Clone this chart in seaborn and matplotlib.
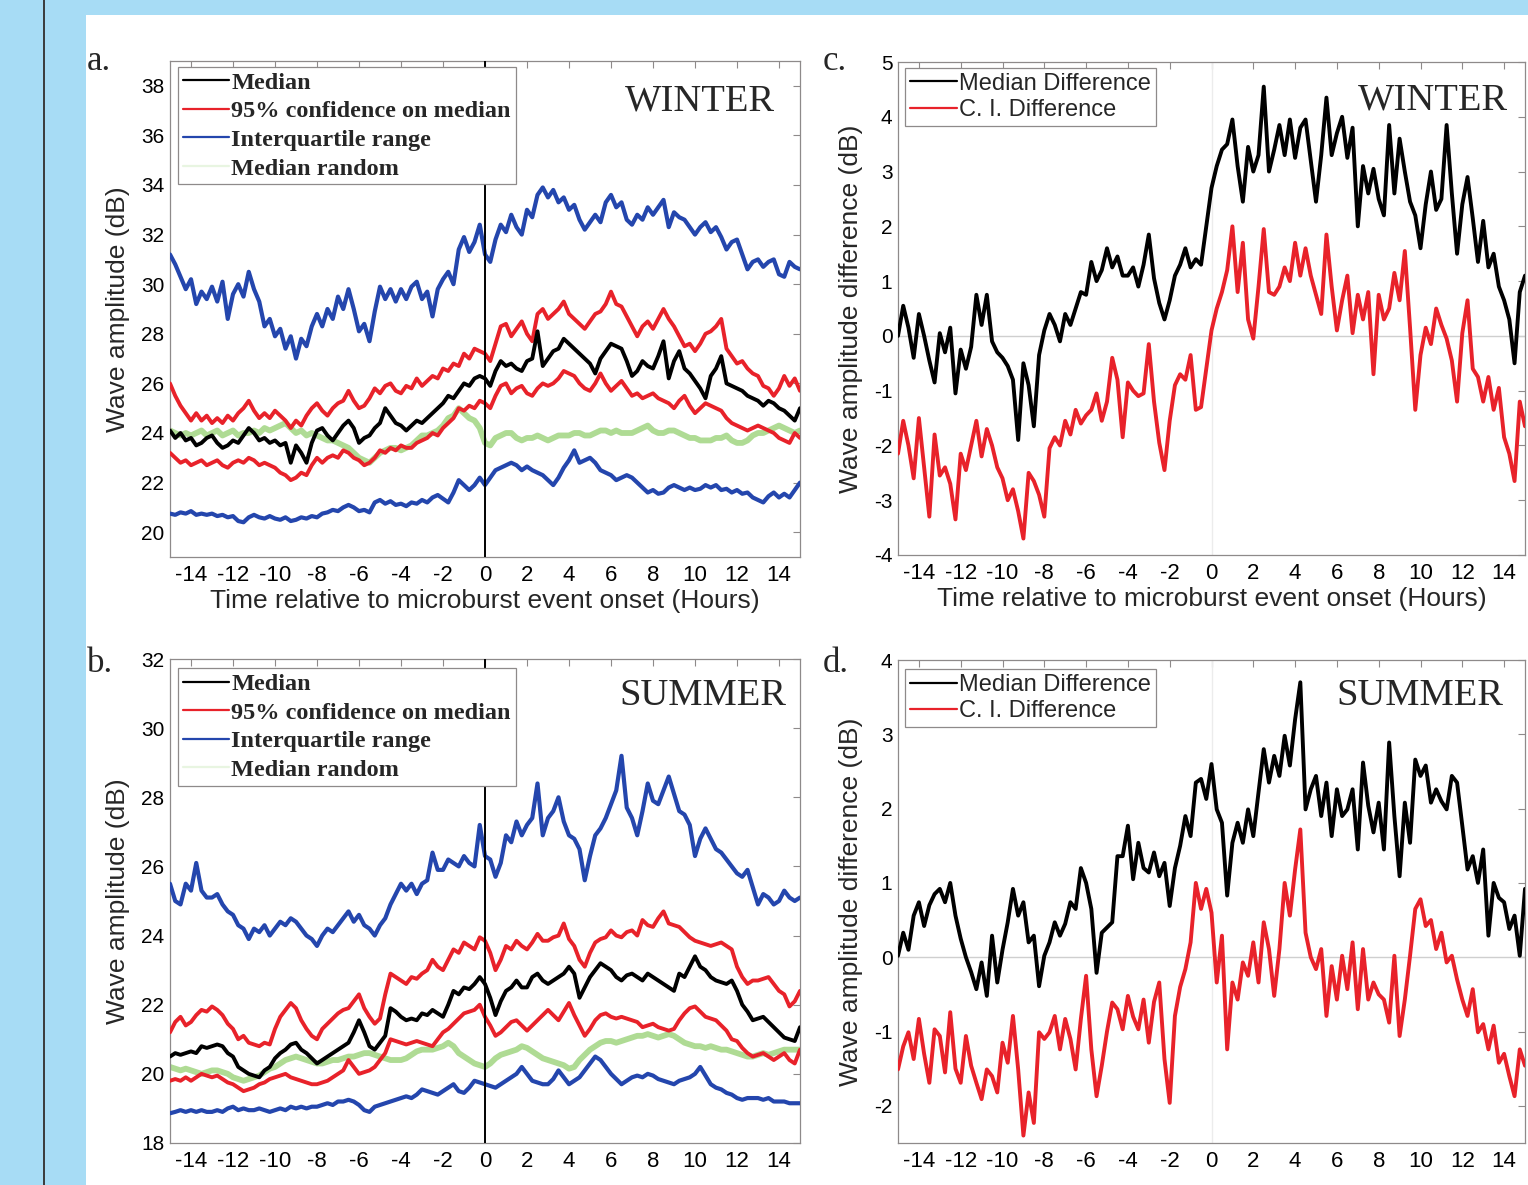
import numpy as np
import matplotlib
matplotlib.use("Agg")
import matplotlib.pyplot as plt
import seaborn as sns
from matplotlib.patches import Rectangle
from matplotlib.lines import Line2D
from matplotlib.font_manager import FontProperties

# ---------------- data (0.25 h steps, -15 .. 15 h) ----------------
hours = np.linspace(-15, 15, 121)

a_iqr_hi = [31.2, 30.8, 30.3, 29.8, 30.2, 29.2, 29.7, 29.4,
            29.9, 29.3, 30.1, 28.6, 29.6, 30.0, 29.5, 30.5,
            29.8, 29.3, 28.3, 28.6, 27.9, 28.2, 27.4, 27.9,
            27.0, 27.8, 27.5, 28.3, 28.8, 28.3, 29.0, 28.6,
            29.5, 29.0, 29.8, 29.0, 28.1, 28.4, 27.7, 28.9,
            29.9, 29.4, 29.8, 29.3, 29.8, 29.4, 29.9, 30.1,
            29.4, 29.7, 28.7, 29.8, 30.2, 30.5, 30.0, 31.4,
            31.9, 31.3, 31.7, 32.4, 31.2, 30.9, 31.8, 32.4,
            32.1, 32.8, 32.3, 32.0, 33.0, 32.7, 33.6, 33.9,
            33.5, 33.8, 33.3, 33.5, 33.0, 33.2, 32.6, 32.2,
            32.5, 32.8, 32.5, 33.3, 33.6, 33.1, 33.3, 32.6,
            32.4, 32.8, 32.6, 33.1, 32.8, 33.1, 33.4, 32.3,
            32.9, 32.7, 32.6, 32.3, 32.0, 32.3, 32.5, 32.1,
            32.3, 31.9, 31.4, 31.7, 31.8, 31.2, 30.6, 30.9,
            31.0, 30.7, 30.9, 31.0, 30.4, 30.3, 30.9, 30.7,
            30.6]
a_iqr_lo = [20.75, 20.7, 20.8, 20.75, 20.85, 20.7, 20.75, 20.7,
            20.75, 20.65, 20.7, 20.6, 20.65, 20.45, 20.4, 20.6,
            20.7, 20.6, 20.55, 20.65, 20.55, 20.5, 20.6, 20.45,
            20.5, 20.6, 20.55, 20.65, 20.6, 20.75, 20.8, 20.9,
            20.85, 21.0, 21.1, 21.0, 20.85, 20.9, 20.8, 21.2,
            21.3, 21.15, 21.25, 21.1, 21.15, 21.05, 21.2, 21.15,
            21.3, 21.2, 21.4, 21.5, 21.35, 21.2, 21.6, 22.1,
            21.9, 21.7, 21.9, 22.2, 21.9, 22.2, 22.5, 22.6,
            22.7, 22.8, 22.7, 22.5, 22.65, 22.5, 22.4, 22.3,
            22.1, 21.9, 22.2, 22.6, 22.9, 23.3, 22.8, 22.9,
            23.0, 22.8, 22.5, 22.4, 22.3, 22.1, 22.2, 22.3,
            22.2, 22.0, 21.8, 21.6, 21.7, 21.55, 21.6, 21.8,
            21.9, 21.8, 21.7, 21.8, 21.7, 21.75, 21.9, 21.8,
            21.9, 21.7, 21.75, 21.6, 21.7, 21.55, 21.6, 21.4,
            21.3, 21.2, 21.45, 21.6, 21.4, 21.55, 21.4, 21.7,
            22.0]
a_ci_hi = [26.0, 25.5, 25.1, 24.8, 24.5, 24.8, 24.5, 24.7,
           24.4, 24.6, 24.4, 24.7, 24.5, 24.8, 25.0, 25.3,
           24.9, 24.6, 24.8, 24.6, 24.9, 24.7, 24.5, 24.2,
           24.5, 24.3, 24.7, 25.0, 25.2, 24.9, 24.7, 25.0,
           25.2, 25.3, 25.7, 25.3, 25.0, 25.1, 25.4, 25.8,
           25.6, 25.9, 26.0, 25.7, 25.6, 25.9, 25.8, 26.2,
           25.9, 26.1, 26.3, 26.2, 26.6, 26.5, 26.8, 26.7,
           27.2, 27.0, 27.4, 27.3, 27.2, 26.9, 27.6, 28.3,
           28.4, 27.9, 28.2, 28.5, 28.0, 27.7, 28.8, 29.0,
           28.6, 28.8, 29.0, 29.3, 28.8, 28.6, 28.4, 28.2,
           28.5, 28.8, 28.9, 29.2, 29.7, 29.2, 29.1, 28.7,
           28.3, 27.9, 28.3, 28.5, 28.2, 28.6, 29.0, 28.6,
           28.3, 27.9, 27.5, 27.6, 27.3, 27.6, 28.0, 28.1,
           28.3, 28.6, 27.4, 27.1, 26.8, 26.9, 26.6, 26.4,
           26.3, 25.9, 25.8, 25.5, 25.8, 26.3, 25.9, 26.2,
           25.7]
a_median = [24.1, 23.8, 24.0, 23.7, 23.8, 23.5, 23.6, 23.8,
            23.9, 23.6, 23.4, 23.5, 23.7, 23.6, 23.9, 24.2,
            24.0, 23.7, 23.8, 23.6, 23.7, 23.5, 23.6, 22.8,
            23.5, 23.2, 22.8, 23.6, 24.1, 24.2, 23.9, 23.7,
            24.0, 24.3, 24.5, 24.2, 23.6, 23.8, 23.9, 24.2,
            24.4, 25.0, 24.7, 24.4, 24.3, 24.1, 24.3, 24.5,
            24.4, 24.6, 24.8, 25.0, 25.2, 25.5, 25.4, 25.7,
            26.0, 25.9, 26.2, 26.3, 26.2, 25.9, 26.5, 26.9,
            26.7, 26.8, 26.6, 26.5, 26.9, 27.0, 28.1, 26.7,
            27.0, 27.3, 27.4, 27.8, 27.6, 27.4, 27.2, 27.0,
            26.8, 26.4, 27.0, 27.3, 27.6, 27.5, 27.4, 26.9,
            26.3, 26.5, 26.9, 26.7, 26.6, 27.1, 27.7, 26.2,
            26.9, 27.3, 26.6, 26.4, 26.1, 25.8, 25.4, 26.3,
            26.6, 27.1, 26.0, 25.9, 25.8, 25.7, 25.5, 25.4,
            25.3, 25.1, 25.3, 25.2, 25.0, 24.9, 24.7, 24.5,
            25.0]
a_ci_lo = [23.2, 23.0, 22.8, 22.9, 22.7, 22.8, 22.9, 22.7,
           22.8, 22.9, 22.7, 22.6, 22.8, 22.9, 22.8, 23.0,
           22.9, 22.7, 22.8, 22.7, 22.6, 22.4, 22.3, 22.1,
           22.2, 22.4, 22.3, 22.7, 23.0, 22.8, 23.0, 23.1,
           23.0, 23.3, 23.2, 23.0, 22.9, 22.7, 22.8, 23.0,
           23.3, 23.2, 23.4, 23.3, 23.5, 23.4, 23.4, 23.6,
           23.7, 23.8, 24.0, 23.9, 24.2, 24.4, 24.6, 25.0,
           24.9, 25.1, 25.0, 25.3, 25.2, 25.0, 25.5, 25.9,
           26.0, 25.6, 25.8, 25.9, 25.6, 25.5, 25.8, 26.0,
           25.9, 26.0, 26.2, 26.5, 26.4, 26.3, 26.0, 25.8,
           25.7, 26.0, 26.4, 26.0, 25.7, 25.9, 26.1, 25.8,
           25.5, 25.6, 25.4, 25.5, 25.6, 25.4, 25.3, 25.2,
           25.0, 25.3, 25.5, 25.1, 24.8, 25.0, 25.2, 25.1,
           25.0, 24.9, 24.6, 24.4, 24.3, 24.2, 24.1, 24.2,
           24.3, 24.2, 24.1, 24.0, 23.8, 23.7, 23.6, 24.0,
           23.8]
a_random = [24.1, 24.0, 23.9, 24.0, 23.9, 24.0, 24.1, 23.9,
            24.0, 24.1, 23.9, 24.0, 24.1, 23.9, 24.0, 24.0,
            24.1, 24.0, 24.2, 24.1, 24.2, 24.3, 24.4, 24.2,
            24.0, 24.1, 23.9, 24.0, 23.9, 23.8, 23.7, 23.7,
            23.6, 23.5, 23.4, 23.2, 23.0, 22.9, 22.8, 23.0,
            23.2, 23.3, 23.4, 23.4, 23.3, 23.4, 23.5, 23.7,
            23.9, 23.9, 24.0, 24.1, 24.3, 24.6, 24.7, 25.0,
            24.8, 24.6, 24.5, 24.2, 23.6, 23.5, 23.8, 23.9,
            24.0, 24.0, 23.8, 23.7, 23.8, 23.8, 23.9, 23.8,
            23.7, 23.8, 23.9, 23.9, 23.9, 24.0, 24.0, 23.9,
            23.9, 24.0, 24.1, 24.1, 24.0, 24.1, 24.0, 24.0,
            24.0, 24.1, 24.2, 24.3, 24.1, 24.0, 24.0, 24.1,
            24.1, 24.0, 23.9, 23.8, 23.8, 23.7, 23.7, 23.7,
            23.8, 23.8, 23.9, 23.7, 23.6, 23.6, 23.7, 23.9,
            24.0, 24.0, 24.1, 24.2, 24.3, 24.2, 24.1, 24.0,
            24.1]

b_iqr_hi = [25.5, 25.0, 24.9, 25.5, 25.3, 26.1, 25.3, 25.1,
            25.1, 25.2, 24.9, 24.7, 24.6, 24.3, 24.2, 23.9,
            24.2, 24.1, 24.3, 24.0, 24.2, 24.4, 24.3, 24.5,
            24.4, 24.2, 24.0, 23.9, 23.7, 24.0, 24.2, 24.1,
            24.3, 24.5, 24.7, 24.4, 24.6, 24.3, 24.2, 24.0,
            24.3, 24.5, 24.9, 25.2, 25.5, 25.3, 25.5, 25.2,
            25.5, 25.6, 26.4, 25.9, 25.9, 26.2, 26.1, 26.0,
            26.3, 26.1, 26.0, 27.2, 26.3, 26.2, 25.7, 26.1,
            26.9, 26.7, 27.3, 26.9, 27.2, 27.4, 28.4, 26.9,
            27.4, 27.6, 28.0, 27.3, 26.9, 26.8, 26.5, 25.6,
            26.3, 26.9, 27.1, 27.4, 27.8, 28.2, 29.2, 27.7,
            27.4, 26.9, 27.6, 28.4, 27.9, 27.8, 28.2, 28.6,
            28.1, 27.6, 27.5, 27.2, 26.3, 26.8, 27.1, 26.8,
            26.5, 26.4, 26.2, 26.0, 25.8, 25.7, 25.9, 25.4,
            24.9, 25.2, 25.1, 24.9, 25.0, 25.3, 25.1, 25.0,
            25.1]
b_iqr_lo = [18.86, 18.9, 18.95, 18.9, 18.95, 18.9, 18.95, 18.9,
            18.9, 18.95, 18.9, 19.0, 19.05, 18.95, 19.0, 18.95,
            18.95, 19.0, 18.95, 18.9, 18.95, 19.0, 18.95, 19.05,
            19.0, 19.05, 19.0, 19.05, 19.05, 19.1, 19.15, 19.1,
            19.2, 19.2, 19.25, 19.2, 19.1, 18.95, 18.9, 19.05,
            19.1, 19.15, 19.2, 19.25, 19.3, 19.35, 19.3, 19.4,
            19.55, 19.5, 19.45, 19.4, 19.5, 19.6, 19.7, 19.5,
            19.45, 19.6, 19.8, 19.75, 19.7, 19.65, 19.6, 19.7,
            19.8, 19.9, 20.0, 20.2, 20.0, 19.8, 19.75, 19.7,
            19.7, 19.85, 20.1, 19.9, 19.7, 19.8, 19.9, 20.1,
            20.3, 20.5, 20.4, 20.2, 20.0, 19.85, 19.7, 19.8,
            19.9, 19.95, 19.9, 20.0, 19.95, 19.85, 19.8, 19.75,
            19.7, 19.8, 19.85, 19.9, 20.0, 20.2, 19.95, 19.7,
            19.6, 19.55, 19.45, 19.4, 19.3, 19.25, 19.3, 19.3,
            19.3, 19.25, 19.3, 19.2, 19.2, 19.2, 19.15, 19.15,
            19.15]
b_ci_hi = [21.2, 21.5, 21.65, 21.4, 21.5, 21.7, 21.85, 21.8,
           21.95, 21.85, 21.7, 21.45, 21.3, 21.0, 21.1, 20.9,
           20.85, 20.8, 20.9, 20.85, 21.3, 21.65, 21.85, 22.05,
           21.9, 21.55, 21.3, 21.1, 21.0, 21.3, 21.45, 21.6,
           21.75, 21.85, 21.9, 22.1, 22.3, 21.9, 21.65, 21.45,
           21.6, 22.3, 22.9, 22.8, 22.7, 22.6, 22.8, 22.75,
           22.9, 23.0, 23.3, 23.1, 23.0, 23.3, 23.6, 23.5,
           23.8, 23.7, 23.6, 23.95, 23.85, 23.5, 23.0, 23.3,
           23.7, 23.6, 23.85, 23.7, 23.6, 23.8, 24.05, 23.85,
           23.85, 23.95, 24.0, 24.35, 23.9, 23.7, 23.3, 23.1,
           23.5, 23.8, 23.9, 23.95, 24.15, 24.0, 23.95, 24.1,
           24.15, 24.0, 24.45, 24.3, 24.25, 24.5, 24.7, 24.35,
           24.3, 24.25, 24.1, 23.95, 23.85, 23.8, 23.75, 23.7,
           23.75, 23.8, 23.7, 23.6, 23.1, 22.8, 22.6, 22.7,
           22.7, 22.75, 22.8, 22.6, 22.4, 22.3, 21.95, 22.1,
           22.4]
b_median = [20.5, 20.6, 20.55, 20.6, 20.65, 20.6, 20.8, 20.75,
            20.8, 20.85, 20.8, 20.6, 20.5, 20.2, 20.1, 20.0,
            19.95, 19.9, 20.1, 20.2, 20.45, 20.6, 20.7, 20.85,
            20.9, 20.7, 20.6, 20.45, 20.3, 20.4, 20.5, 20.6,
            20.7, 20.8, 20.9, 21.2, 21.55, 21.2, 20.8, 20.7,
            20.9, 21.1, 21.9, 21.8, 21.65, 21.55, 21.6, 21.55,
            21.75, 21.7, 21.85, 21.75, 21.65, 22.0, 22.4, 22.3,
            22.5, 22.45, 22.6, 22.8, 22.6, 22.2, 21.7, 22.1,
            22.4, 22.5, 22.7, 22.5, 22.5, 22.8, 22.9, 22.7,
            22.6, 22.7, 22.8, 22.9, 23.1, 22.9, 22.2, 22.5,
            22.8, 23.0, 23.2, 23.1, 23.0, 22.8, 22.7, 22.85,
            22.9, 22.8, 22.7, 22.9, 22.8, 22.7, 22.6, 22.5,
            22.4, 22.9, 22.8, 23.1, 23.4, 23.1, 23.0, 22.8,
            22.7, 22.65, 22.6, 22.7, 22.4, 22.0, 21.8, 21.55,
            21.6, 21.65, 21.5, 21.35, 21.2, 21.05, 21.0, 20.95,
            21.35]
b_ci_lo = [19.8, 19.85, 19.8, 19.9, 19.8, 19.9, 20.0, 19.95,
           19.9, 19.95, 19.85, 19.75, 19.7, 19.6, 19.5, 19.55,
           19.6, 19.7, 19.75, 19.85, 19.9, 19.95, 20.0, 19.9,
           19.85, 19.8, 19.75, 19.7, 19.7, 19.75, 19.8, 19.9,
           20.0, 20.1, 20.4, 20.2, 20.0, 20.05, 20.1, 20.2,
           20.4, 20.6, 21.0, 20.95, 20.9, 20.85, 20.9, 20.95,
           20.9, 20.85, 20.8, 21.0, 21.2, 21.3, 21.45, 21.6,
           21.75, 21.8, 21.85, 22.0, 21.65, 21.4, 21.1, 21.2,
           21.35, 21.5, 21.55, 21.4, 21.25, 21.4, 21.55, 21.7,
           21.85, 21.7, 21.55, 21.8, 22.05, 21.7, 21.4, 21.1,
           21.3, 21.55, 21.7, 21.75, 21.65, 21.6, 21.65, 21.6,
           21.55, 21.5, 21.35, 21.4, 21.45, 21.35, 21.3, 21.25,
           21.3, 21.55, 21.75, 21.9, 21.95, 21.8, 21.65, 21.6,
           21.55, 21.4, 21.25, 21.0, 20.95, 20.75, 20.6, 20.5,
           20.55, 20.6, 20.5, 20.4, 20.5, 20.6, 20.4, 20.3,
           20.7]
b_random = [20.2, 20.15, 20.1, 20.15, 20.1, 20.05, 20.0, 20.05,
            20.1, 20.1, 20.05, 20.0, 19.9, 19.85, 19.8, 19.85,
            19.9, 19.95, 20.05, 20.15, 20.2, 20.3, 20.4, 20.45,
            20.5, 20.45, 20.4, 20.35, 20.3, 20.3, 20.35, 20.4,
            20.4, 20.45, 20.5, 20.5, 20.55, 20.6, 20.6, 20.55,
            20.5, 20.45, 20.4, 20.4, 20.4, 20.45, 20.55, 20.65,
            20.7, 20.7, 20.7, 20.75, 20.8, 20.9, 20.8, 20.6,
            20.5, 20.4, 20.3, 20.25, 20.2, 20.3, 20.45, 20.55,
            20.6, 20.65, 20.7, 20.8, 20.75, 20.65, 20.55, 20.45,
            20.4, 20.35, 20.3, 20.25, 20.15, 20.2, 20.4, 20.55,
            20.7, 20.8, 20.9, 20.95, 20.95, 20.9, 20.95, 21.0,
            21.05, 21.1, 21.1, 21.15, 21.1, 21.05, 21.1, 21.15,
            21.1, 21.0, 20.9, 20.85, 20.8, 20.8, 20.75, 20.8,
            20.75, 20.7, 20.7, 20.65, 20.6, 20.55, 20.5, 20.5,
            20.55, 20.6, 20.55, 20.6, 20.65, 20.7, 20.7, 20.7,
            20.7]

c_median_diff = [0.0, 0.55, 0.15, -0.4, 0.4, 0.0, -0.45, -0.85,
                 0.05, -0.3, 0.15, -1.05, -0.25, -0.6, -0.2, 0.75,
                 0.2, 0.75, -0.1, -0.3, -0.4, -0.55, -0.8, -1.9,
                 -0.5, -0.9, -1.65, -0.35, 0.1, 0.4, 0.2, -0.1,
                 0.4, 0.2, 0.5, 0.8, 0.75, 1.35, 1.0, 1.2,
                 1.6, 1.25, 1.45, 1.1, 1.1, 1.25, 0.9, 1.3,
                 1.85, 1.05, 0.6, 0.3, 0.65, 1.1, 1.3, 1.6,
                 1.25, 1.4, 1.3, 2.0, 2.7, 3.1, 3.4, 3.5,
                 3.95, 3.1, 2.45, 3.45, 3.0, 3.3, 4.55, 3.0,
                 3.4, 3.85, 3.3, 3.95, 3.25, 3.8, 3.95, 3.2,
                 2.45, 3.3, 4.35, 3.3, 3.7, 4.0, 3.25, 3.8,
                 2.0, 3.1, 2.6, 3.05, 2.5, 2.2, 3.85, 2.6,
                 3.6, 3.0, 2.45, 2.2, 1.6, 2.4, 3.0, 2.3,
                 2.5, 3.85, 2.6, 1.5, 2.4, 2.9, 2.15, 1.35,
                 2.1, 1.25, 1.5, 0.9, 0.65, 0.3, -0.5, 0.8,
                 1.1]
c_ci_diff = [-2.15, -1.55, -2.0, -2.6, -1.5, -2.4, -3.3, -1.8,
             -2.55, -2.4, -2.7, -3.35, -2.15, -2.45, -2.0, -1.55,
             -2.2, -1.7, -2.0, -2.4, -2.6, -3.0, -2.8, -3.2,
             -3.7, -2.5, -2.65, -2.9, -3.3, -2.05, -1.85, -2.0,
             -1.55, -1.8, -1.35, -1.6, -1.45, -1.35, -1.05, -1.55,
             -1.2, -0.4, -0.8, -1.85, -0.85, -1.0, -1.1, -1.05,
             -0.15, -1.2, -1.95, -2.45, -1.55, -0.9, -0.7, -0.8,
             -0.35, -1.35, -1.3, -0.6, 0.1, 0.5, 0.8, 1.2,
             2.0, 0.8, 1.7, 0.3, -0.05, 0.9, 1.95, 0.8,
             0.75, 0.9, 1.25, 1.0, 1.7, 1.1, 1.6, 1.1,
             0.75, 0.4, 1.85, 0.9, 0.1, 0.65, 1.1, 0.05,
             0.75, 0.3, 0.8, -0.7, 0.75, 0.3, 0.5, 1.15,
             0.65, 1.55, 0.15, -1.35, -0.35, 0.15, -0.15, 0.5,
             0.2, -0.05, -0.45, -1.2, 0.05, 0.65, -0.6, -0.75,
             -1.2, -0.75, -1.35, -0.95, -1.85, -2.15, -2.65, -1.2,
             -1.65]

d_median_diff = [0.02, 0.33, 0.1, 0.56, 0.74, 0.42, 0.7, 0.85,
                 0.92, 0.74, 1.0, 0.56, 0.25, 0.0, -0.2, -0.43,
                 -0.07, -0.52, 0.29, -0.34, 0.1, 0.47, 0.92, 0.56,
                 0.74, 0.2, 0.29, -0.39, 0.02, 0.2, 0.47, 0.29,
                 0.45, 0.74, 0.65, 1.2, 1.0, 0.65, -0.21, 0.33,
                 0.4, 0.47, 1.36, 1.36, 1.77, 1.05, 1.54, 1.2,
                 1.14, 1.41, 1.09, 1.27, 0.69, 1.2, 1.5, 1.9,
                 1.63, 2.35, 2.4, 2.13, 2.6, 1.99, 1.81, 0.83,
                 1.54, 1.81, 1.54, 1.99, 1.63, 2.22, 2.8, 2.35,
                 2.71, 2.44, 2.98, 2.58, 3.2, 3.7, 1.99, 2.26,
                 2.44, 1.9, 2.35, 1.63, 2.26, 1.9, 1.99, 2.26,
                 1.45, 2.62, 2.04, 1.68, 2.08, 1.45, 2.89, 1.9,
                 1.09, 2.08, 1.54, 2.66, 2.44, 2.58, 2.08, 2.26,
                 2.1, 1.99, 2.44, 2.35, 1.77, 1.18, 1.36, 1.0,
                 1.45, 0.29, 1.0, 0.8, 0.74, 0.38, 0.56, 0.02,
                 0.92]
d_ci_diff = [-1.51, -1.2, -1.01, -1.37, -0.83, -1.3, -1.69, -0.97,
             -1.06, -1.55, -0.74, -1.5, -1.69, -1.06, -1.46, -1.69,
             -1.91, -1.51, -1.6, -1.82, -1.15, -1.42, -0.79, -1.51,
             -2.4, -1.82, -2.23, -1.01, -1.1, -1.01, -0.79, -1.24,
             -0.83, -1.1, -1.51, -0.83, -0.25, -1.24, -1.87, -1.46,
             -1.0, -0.61, -0.7, -0.97, -0.52, -0.8, -0.97, -0.57,
             -1.15, -0.6, -0.34, -1.37, -1.96, -0.79, -0.4, -0.16,
             0.2, 1.0, 0.65, 0.92, 0.6, -0.34, 0.29, -1.24,
             -0.34, -0.57, -0.07, -0.25, 0.2, -0.34, 0.47, 0.11,
             -0.52, 0.11, 1.0, 0.56, 1.18, 1.72, 0.33, 0.0,
             -0.16, 0.11, -0.79, -0.12, -0.57, 0.02, -0.43, 0.2,
             -0.7, 0.11, -0.57, -0.34, -0.5, -0.57, -0.88, 0.02,
             -1.06, -0.57, 0.02, 0.65, 0.78, 0.42, 0.5, 0.11,
             0.33, -0.07, 0.02, -0.3, -0.57, -0.79, -0.43, -1.01,
             -0.9, -1.24, -0.92, -1.42, -1.3, -1.6, -1.87, -1.24,
             -1.46]

a_yticks = list(range(20, 39, 2))
b_yticks = list(range(18, 33, 2))
c_yticks = list(range(-4, 6))
d_yticks = list(range(-2, 5))
hour_ticks = list(range(-14, 15, 2))

legend_amp = ["Median", "95% confidence on median", "Interquartile range", "Median random"]
legend_diff = ["Median Difference", "C. I. Difference"]
xlabel_txt = "Time relative to microburst event onset (Hours)"

# ---------------- style ----------------
sns.set_theme(style="white")
plt.rcParams["font.family"] = ["Liberation Sans", "DejaVu Sans"]
plt.rcParams["axes.unicode_minus"] = False

BLACK, RED, BLUE, GREEN = "#000000", "#e8222a", "#2446ad", "#a6d889"
SPINE = "#8e8a8a"
W, H = 1528, 1185

fig = plt.figure(figsize=(W / 100, H / 100), dpi=100)
fig.patch.set_facecolor("#a7dcf5")
fig.add_artist(Rectangle((86 / W, 0), 1 - 86 / W, 1 - 15 / H, transform=fig.transFigure,
                         facecolor="white", edgecolor="none", zorder=-5))
fig.add_artist(Line2D([44 / W, 44 / W], [0, 1], transform=fig.transFigure,
                      color="#3a3a3a", lw=1.4, zorder=-4))


def px_axes(x0, x1, y0, y1):
    return fig.add_axes([x0 / W, 1 - y1 / H, (x1 - x0) / W, (y1 - y0) / H])


def line(ax, vals, color, lw, z, alpha=1.0):
    sns.lineplot(x=hours, y=vals, ax=ax, color=color, linewidth=lw, zorder=z,
                 alpha=alpha, estimator=None, sort=False, legend=False)
    return ax.lines[-1]


def style_axes(ax, ylim, yticks, ytick_size):
    ax.set_xlim(-15, 15)
    ax.set_ylim(*ylim)
    ax.set_xticks(hour_ticks)
    ax.set_xticklabels([str(v) for v in hour_ticks])
    ax.set_yticks(yticks)
    ax.set_yticklabels([str(v) for v in yticks])
    ax.tick_params(axis="both", direction="in", length=5, width=0.8, color=SPINE,
                   top=True, right=True, labelcolor="black")
    ax.tick_params(axis="x", labelsize=16, pad=6)
    ax.tick_params(axis="y", labelsize=ytick_size, pad=4)
    for s in ax.spines.values():
        s.set_color(SPINE)
        s.set_linewidth(0.9)
    ax.set_facecolor("white")


serif_bold = FontProperties(family=["Liberation Serif", "DejaVu Serif"], weight="bold", size=17.5)
sans_leg = FontProperties(family=["Liberation Sans", "DejaVu Sans"], size=17)
LW = 2.8


def amp_panel(ax, hi, lo, chi, clo, med, rnd, ylim, yticks, season, season_pos, leg_top):
    line(ax, rnd, GREEN, 4.2, 2, alpha=0.9)
    line(ax, hi, BLUE, LW + 0.2, 3)
    line(ax, lo, BLUE, LW + 0.2, 3)
    line(ax, chi, RED, LW, 4)
    line(ax, clo, RED, LW, 4)
    line(ax, med, BLACK, LW, 5)
    ax.axvline(0, color="black", lw=1.4, zorder=6)
    style_axes(ax, ylim, yticks, 15)
    ax.set_ylabel("Wave amplitude (dB)", fontsize=19, labelpad=8)
    handles = [Line2D([], [], color=BLACK, lw=1.6), Line2D([], [], color=RED, lw=1.6),
               Line2D([], [], color=BLUE, lw=1.6), Line2D([], [], color=GREEN, lw=1.6, alpha=0.25)]
    leg = ax.legend(handles, legend_amp, loc="upper left", bbox_to_anchor=(0.0127, leg_top),
                    prop=serif_bold, handlelength=1.9, handletextpad=0.1, labelspacing=0.27,
                    borderpad=0.2, borderaxespad=0, frameon=True, fancybox=False,
                    edgecolor=SPINE, framealpha=1)
    leg.get_frame().set_linewidth(0.9)
    leg.set_zorder(10)
    ax.text(season_pos[0], season_pos[1], season, transform=ax.transAxes, ha="right",
            va="baseline", fontsize=27.7, family=["Liberation Serif", "DejaVu Serif"], zorder=11)


def diff_panel(ax, med, ci, ylim, yticks, season, season_pos, leg_top):
    ax.axhline(0, color="#cfcfcf", lw=1.0, zorder=1)
    ax.axvline(0, color="#ececec", lw=1.0, zorder=1)
    line(ax, ci, RED, LW, 3)
    line(ax, med, BLACK, LW, 4)
    style_axes(ax, ylim, yticks, 15)
    ax.set_ylabel("Wave amplitude difference (dB)", fontsize=19, labelpad=8)
    handles = [Line2D([], [], color=BLACK, lw=1.6), Line2D([], [], color=RED, lw=1.6)]
    leg = ax.legend(handles, legend_diff, loc="upper left", bbox_to_anchor=(0.011, leg_top),
                    prop=sans_leg, handlelength=2.0, handletextpad=0.1, labelspacing=0.18,
                    borderpad=0.2, borderaxespad=0, frameon=True, fancybox=False,
                    edgecolor=SPINE, framealpha=1)
    leg.get_frame().set_linewidth(0.9)
    leg.set_zorder(10)
    ax.text(season_pos[0], season_pos[1], season, transform=ax.transAxes, ha="right",
            va="baseline", fontsize=27.7, family=["Liberation Serif", "DejaVu Serif"], zorder=11)


ax_a = px_axes(170, 800, 61, 557)
ax_b = px_axes(170, 800, 659, 1143)
ax_c = px_axes(898, 1525, 62, 555)
ax_d = px_axes(898, 1525, 660, 1143)

amp_panel(ax_a, a_iqr_hi, a_iqr_lo, a_ci_hi, a_ci_lo, a_median, a_random,
          (19, 39), a_yticks, "WINTER", (0.960, 0.901), 0.988)
amp_panel(ax_b, b_iqr_hi, b_iqr_lo, b_ci_hi, b_ci_lo, b_median, b_random,
          (18, 32), b_yticks, "SUMMER", (0.979, 0.905), 0.981)
diff_panel(ax_c, c_median_diff, c_ci_diff, (-4, 5), c_yticks, "WINTER", (0.973, 0.903), 0.988)
diff_panel(ax_d, d_median_diff, d_ci_diff, (-2.5, 4), d_yticks, "SUMMER", (0.965, 0.907), 0.981)

ax_a.set_xlabel(xlabel_txt, fontsize=19, labelpad=2)
ax_c.set_xlabel(xlabel_txt, fontsize=19, labelpad=2)
for ax in (ax_b, ax_d):
    ax.set_xlabel("")

serif = ["Liberation Serif", "DejaVu Serif"]
for lbl, (x, y) in zip(["a.", "b.", "c.", "d."], [(87, 70), (87, 672), (823, 70), (823, 672)]):
    fig.text(x / W, 1 - y / H, lbl, fontsize=25, family=serif, va="baseline", ha="left")

fig.savefig("out.png", dpi=100, facecolor=fig.get_facecolor())
